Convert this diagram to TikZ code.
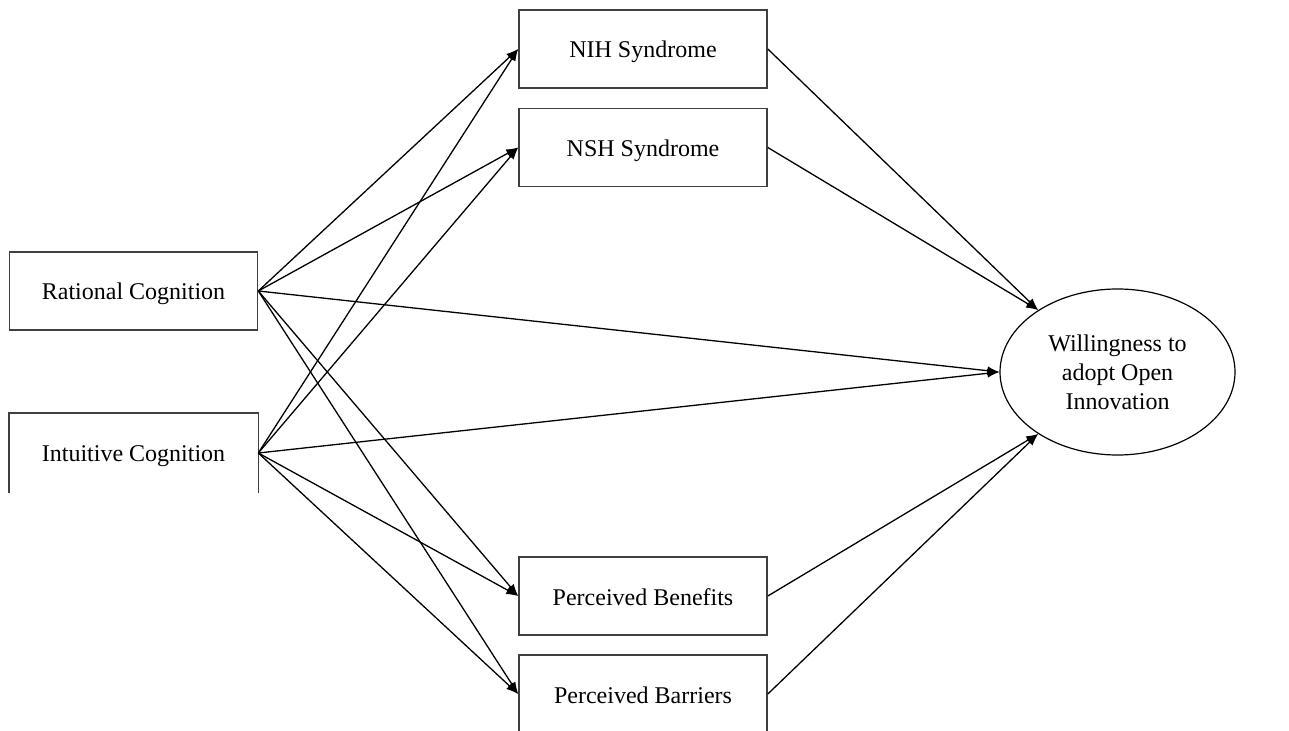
\documentclass[tikz,border=0pt]{standalone}
\usepackage{fontspec}
\setmainfont{Liberation Serif}
\usetikzlibrary{shapes.geometric, arrows.meta}

\tikzset{
    box/.style={draw=black!75, line width=0.8pt, minimum width=124pt,
        minimum height=39pt, inner sep=0pt, text height=10pt, text depth=1pt,
        font=\fontsize{12}{14.5}\selectfont},
    outcome/.style={ellipse, draw, line width=0.6pt, minimum width=117.5pt,
        minimum height=83pt, inner sep=0pt, align=center,
        font=\fontsize{12}{14.5}\selectfont},
    link/.style={-{Latex[length=6pt, width=4.4pt]}, line width=0.65pt}
}

\begin{document}
\begin{tikzpicture}[x=0.5pt, y=-0.5pt]

    % Frame (the lowest box runs off the page)
    \path[use as bounding box, clip] (0,0) rectangle (1289,731);

    % Predictors
    \node[box] (rat) at (133.5,291) {Rational Cognition};
    \node[box, draw=none] (int) at (133.5,453) {Intuitive Cognition};
    \draw[black!75, line width=0.8pt] (int.south west) |- (int.north east) -- (int.south east);

    % Mediators
    \node[box] (nih) at (643,49) {NIH Syndrome};
    \node[box] (nsh) at (643,147.5) {NSH Syndrome};
    \node[box] (ben) at (643,596) {Perceived Benefits};
    \node[box] (bar) at (643,694) {Perceived Barriers};

    % Outcome
    \node[outcome] (will) at (1117.5,372) {Willingness to\\adopt Open\\Innovation};

    % Paths from predictors
    \foreach \s in {rat, int}{
        \foreach \m in {nih, nsh, ben, bar}
            \draw[link] (\s.east) -- (\m.west);
        \draw[link] (\s.east) -- (will.west);
    }

    % Paths from mediators
    \foreach \m in {nih, nsh}
        \draw[link] (\m.east) -- (will.142);
    \foreach \m in {ben, bar}
        \draw[link] (\m.east) -- (will.218);

\end{tikzpicture}
\end{document}
